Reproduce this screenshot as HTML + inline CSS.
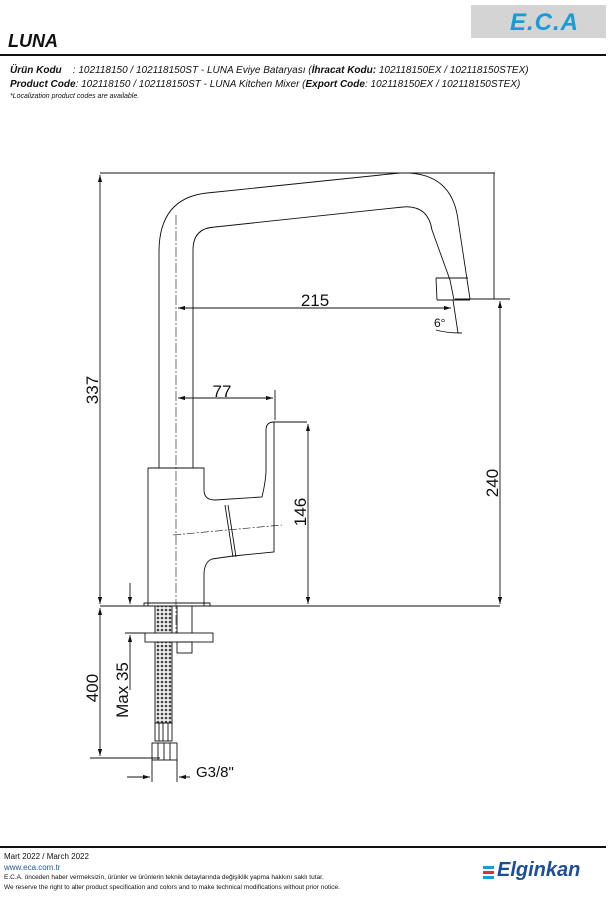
<!DOCTYPE html>
<html><head><meta charset="utf-8"><style>
body{margin:0;background:#fff;width:611px;height:900px;overflow:hidden;position:relative;font-family:"Liberation Sans",sans-serif;color:#111}
.a{position:absolute;white-space:nowrap}
</style></head><body>
<div class="a" style="left:471px;top:5px;width:135px;height:33px;background:#d4d4d4"></div>
<div class="a" style="left:510px;top:9px;font:italic bold 24px 'Liberation Sans',sans-serif;color:#1a9ad6;letter-spacing:1px">E.C.A</div>
<div class="a" style="left:8px;top:31px;font:italic bold 18px 'Liberation Sans',sans-serif">LUNA</div>
<div class="a" style="left:0;top:54px;width:606px;height:2px;background:#111"></div>
<div class="a" style="left:10px;top:65px;font:italic 10px 'Liberation Sans',sans-serif"><b>Ürün Kodu</b>&nbsp;&nbsp;&nbsp;&nbsp;: 102118150 / 102118150ST - LUNA Eviye Bataryası (<b>İhracat Kodu:</b> 102118150EX / 102118150STEX)</div>
<div class="a" style="left:10px;top:79px;font:italic 10px 'Liberation Sans',sans-serif"><b>Product Code</b>: 102118150 / 102118150ST - LUNA Kitchen Mixer (<b>Export Code</b>: 102118150EX / 102118150STEX)</div>
<div class="a" style="left:10px;top:93px;font:italic 7px 'Liberation Sans',sans-serif">*Localization product codes are available.</div>

<svg class="a" style="left:0;top:0" width="611" height="900" viewBox="0 0 611 900">
<defs><marker id="m" viewBox="0 0 10 6" refX="10" refY="3" markerWidth="8" markerHeight="5" orient="auto-start-reverse"><path d="M0,0L10,3L0,6z" fill="#111"/></marker>
<pattern id="p" width="4" height="4" patternUnits="userSpaceOnUse"><rect width="4" height="4" fill="#eee"/><circle cx="2" cy="2" r="1.3" fill="#444"/></pattern></defs>
<g fill="none" stroke="#111" stroke-width="0.9">
<path d="M159,468V252Q159,198 207,193L400,173Q452,171 458,220L470,299"/>
<path d="M193,468V250Q193,228 215,227L403,207Q428,205 432,230L450,280L454,300"/>
<path d="M436,278H468M437,300H470"/>
<path d="M437,300L436,278"/>
<path d="M148,468H204V490Q204,500 215,500L262,497Q266,480 266,470V430Q266,422 274,422H307"/>
<path d="M274,422V552L233,556L212,559Q204,562 204,575V606"/>
<path d="M148,468V606"/>
<path d="M225,505L233,557M228,505L236,557"/>
<path d="M173,535L282,525" stroke-dasharray="8,2,2,2" stroke-width="0.6"/>
<path d="M176,215V640" stroke-dasharray="10,2,2,2" stroke-width="0.6"/>
<path d="M144,603H210V606H144z"/>
<path d="M100,606H500"/>
<rect x="155" y="606" width="17" height="117" fill="url(#p)"/>
<path d="M177,606V633M192,606V633"/>
<rect x="145" y="633" width="68" height="9" fill="#fff"/>
<rect x="177" y="642" width="15" height="11"/>
<rect x="155" y="723" width="17" height="18"/>
<rect x="152" y="743" width="25" height="17"/>
<path d="M158,743V760M164,743V760M170,743V760M159,723V741M163,723V741M168,723V741"/>
<path d="M100,173H495M494,173V299M455,299H510"/>
<path d="M100,175V604" marker-start="url(#m)" marker-end="url(#m)"/>
<path d="M100,608V756" marker-start="url(#m)" marker-end="url(#m)"/>
<path d="M90,758H160"/>
<path d="M178,308H451" marker-start="url(#m)" marker-end="url(#m)"/>
<path d="M178,398H273" marker-start="url(#m)" marker-end="url(#m)"/>
<path d="M275,390V420"/>
<path d="M308,424V604" marker-start="url(#m)" marker-end="url(#m)"/>
<path d="M500,301V604" marker-start="url(#m)" marker-end="url(#m)"/>
<path d="M130,583V604" marker-end="url(#m)"/>
<path d="M130,635V690" marker-start="url(#m)"/>
<path d="M125,633H145"/>
<path d="M127,777H150M179,777H190"/>
<path d="M140,777H150" marker-end="url(#m)"/>
<path d="M190,777H179" marker-end="url(#m)"/>
<path d="M152,760V782M177,760V782"/>
<path d="M453,300L458,333M436,330Q446,333 462,333"/>
</g>
<g font-family="Liberation Sans,sans-serif" font-size="17" fill="#111">
<text x="315" y="306" text-anchor="middle">215</text>
<text x="222" y="397" text-anchor="middle">77</text>
<text x="434" y="327" font-size="12">6°</text>
<text transform="translate(98,390) rotate(-90)" text-anchor="middle">337</text>
<text transform="translate(98,688) rotate(-90)" text-anchor="middle">400</text>
<text transform="translate(128,690) rotate(-90)" text-anchor="middle">Max 35</text>
<text transform="translate(306,512) rotate(-90)" text-anchor="middle">146</text>
<text transform="translate(498,483) rotate(-90)" text-anchor="middle">240</text>
<text x="196" y="777" font-size="15">G3/8"</text>
</g>
</svg>

<div class="a" style="left:0;top:846px;width:606px;height:2px;background:#111"></div>
<div class="a" style="left:4px;top:852px;font-size:8px">Mart 2022 / March 2022</div>
<div class="a" style="left:4px;top:863px;font-size:8px;color:#1a5a9a">www.eca.com.tr</div>
<div class="a" style="left:4px;top:874px;font-size:6.5px">E.C.A. önceden haber vermeksizin, ürünler ve ürünlerin teknik detaylarında değişiklik yapma hakkını saklı tutar.</div>
<div class="a" style="left:4px;top:884px;font-size:6.5px">We reserve the right to alter product specification and colors and to make technical modifications without prior notice.</div>
<div class="a" style="left:483px;top:866px;width:11px;height:3px;background:#1a9ad6;box-shadow:0 5px 0 #d33,0 10px 0 #1a9ad6"></div>
<div class="a" style="left:497px;top:859px;font:italic bold 20px 'Liberation Sans',sans-serif;color:#1a4f9a">Elginkan</div>
</body></html>
